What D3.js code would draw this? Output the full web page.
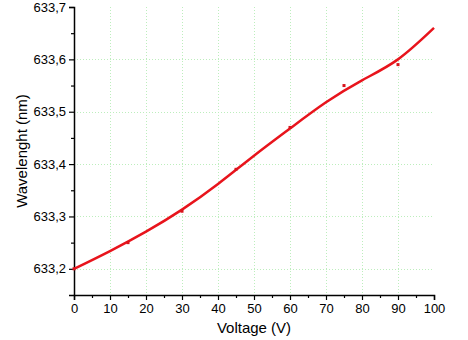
<!DOCTYPE html>
<html>
<head>
<meta charset="utf-8">
<script src="https://cdn.jsdelivr.net/npm/d3@7"></script>
<style>
  body { margin: 0; background: #fff; }
  svg text { font-family: "Liberation Sans", Arial, sans-serif; }
</style>
</head>
<body>
<div id="chart"></div>
<script>
// measured points (most sit under the fit line)
var volts = [0, 15, 30, 45, 60, 75, 90];
var waves = [633.20, 633.25, 633.31, 633.39, 633.47, 633.55, 633.59];

// fitted curve
var fitVolts = [0, 10, 20, 30, 40, 50, 60, 70, 80, 90, 100];
var fitWaves = [633.200, 633.234, 633.271, 633.313, 633.362, 633.416, 633.468, 633.518, 633.560, 633.600, 633.660];

var xTicks = [0, 10, 20, 30, 40, 50, 60, 70, 80, 90, 100];
var yTicks = [633.2, 633.3, 633.4, 633.5, 633.6, 633.7];

var width = 468, height = 340,
    margin = {left: 74, right: 34, top: 7, bottom: 45};

var svg = d3.select('#chart').append('svg')
    .attr('width', width)
    .attr('height', height);

var x = d3.scaleLinear().domain([0, 100]).range([margin.left, width - margin.right]);
var y = d3.scaleLinear().domain([633.15, 633.7]).range([height - margin.bottom, margin.top]);

var fmt = function(d) { return d3.format('.1f')(d).replace('.', ','); };

// grid
var grid = svg.append('g').attr('stroke', '#bdeebd').attr('stroke-width', 1)
    .attr('stroke-dasharray', '1,2');
grid.selectAll('.vg').data(xTicks.slice(1, -1)).enter().append('line')
    .attr('x1', function(d) { return Math.round(x(d)) + 0.5; })
    .attr('x2', function(d) { return Math.round(x(d)) + 0.5; })
    .attr('y1', y(633.7)).attr('y2', y(633.15));
grid.selectAll('.hg').data(yTicks.slice(0, -1)).enter().append('line')
    .attr('y1', function(d) { return Math.round(y(d)) + 0.5; })
    .attr('y2', function(d) { return Math.round(y(d)) + 0.5; })
    .attr('x1', x(0)).attr('x2', x(100));

// axes
svg.append('g')
    .attr('transform', 'translate(0,' + (height - margin.bottom) + ')')
    .call(d3.axisBottom(x).tickValues(xTicks).tickSize(5).tickPadding(4).tickFormat(d3.format('d')));
svg.append('g')
    .attr('transform', 'translate(0,' + (height - margin.bottom) + ')')
    .call(d3.axisBottom(x).tickValues(d3.range(5, 100, 10)).tickSize(3).tickFormat(''))
    .select('.domain').remove();

svg.append('g')
    .attr('transform', 'translate(' + margin.left + ',0)')
    .call(d3.axisLeft(y).tickValues(yTicks).tickSize(5).tickPadding(3).tickFormat(fmt));
svg.append('g')
    .attr('transform', 'translate(' + margin.left + ',0)')
    .call(d3.axisLeft(y).tickValues([633.25, 633.35, 633.45, 633.55, 633.65]).tickSize(3).tickFormat(''))
    .select('.domain').remove();

svg.selectAll('.domain').attr('stroke', '#000').attr('stroke-width', 1.5);
svg.selectAll('.tick line').attr('stroke', '#000').attr('stroke-width', 1.2);
svg.selectAll('.tick text').attr('font-size', 13).attr('fill', '#000')
    .attr('font-family', '"Liberation Sans", Arial, sans-serif');

// fit line
var line = d3.line()
    .x(function(d, i) { return x(fitVolts[i]); })
    .y(function(d) { return y(d); })
    .curve(d3.curveNatural);

svg.append('path')
    .datum(fitWaves)
    .attr('d', line)
    .attr('fill', 'none')
    .attr('stroke', '#e8141c')
    .attr('stroke-width', 2.5);

// data points
svg.selectAll('.pt').data(waves).enter().append('rect')
    .attr('x', function(d, i) { return x(volts[i]) - 1.5; })
    .attr('y', function(d) { return y(d) - 1.5; })
    .attr('width', 3).attr('height', 3)
    .attr('fill', '#d8141c');

// labels
svg.append('text')
    .attr('x', (x(0) + x(100)) / 2)
    .attr('y', 333)
    .attr('text-anchor', 'middle')
    .attr('font-size', 15)
    .text('Voltage (V)');

svg.append('text')
    .attr('transform', 'translate(27,' + ((y(633.15) + y(633.7)) / 2) + ') rotate(-90)')
    .attr('text-anchor', 'middle')
    .attr('font-size', 15)
    .text('Wavelenght (nm)');
</script>
</body>
</html>
